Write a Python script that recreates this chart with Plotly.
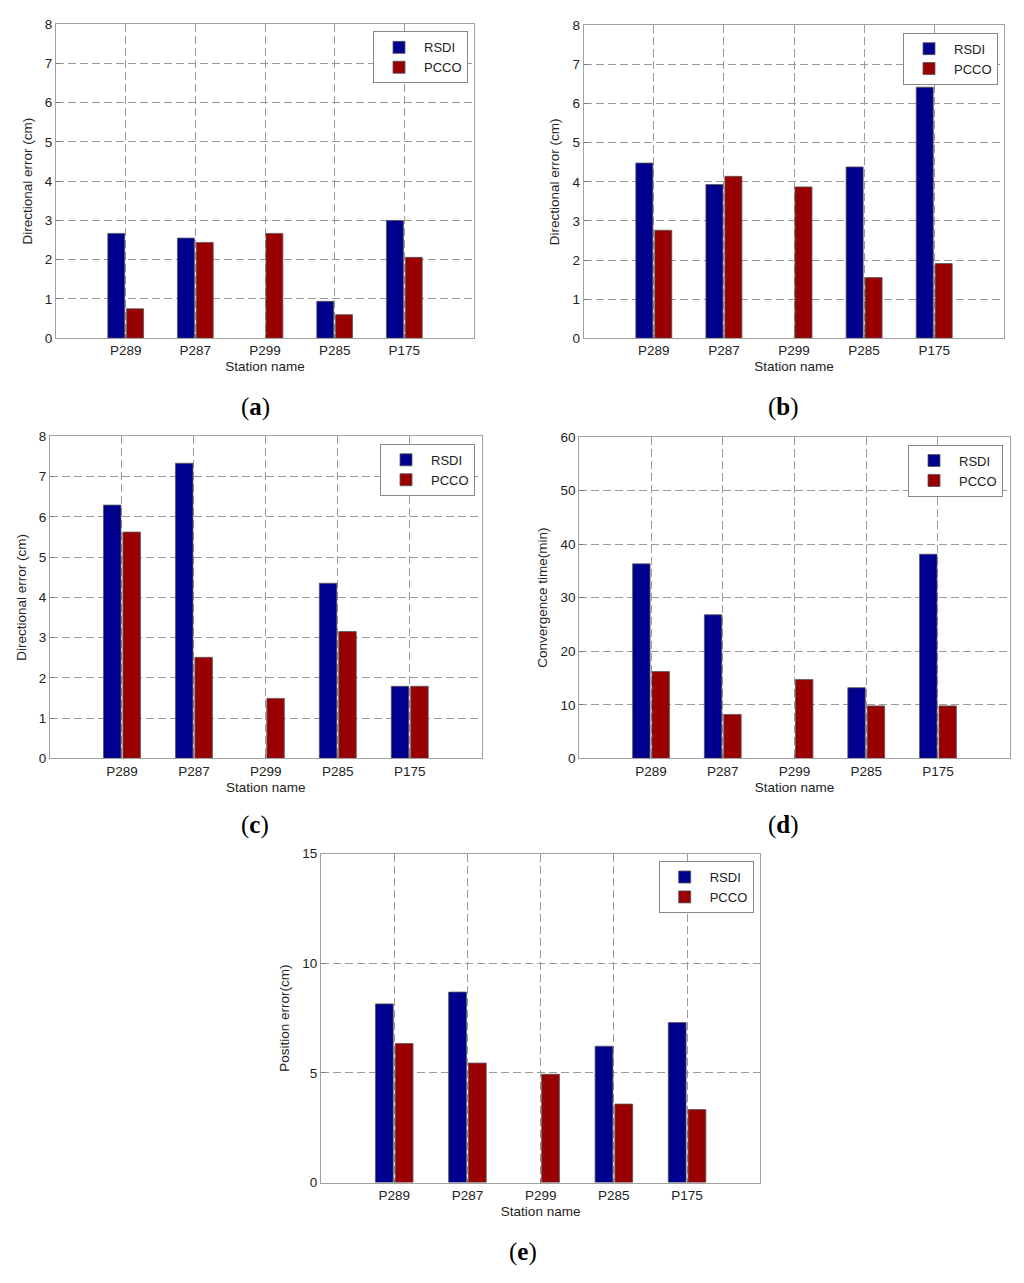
import plotly.graph_objects as go

stations = ["P289", "P287", "P299", "P285", "P175"]

# (a) directional error (RSDI has no value at P299)
a_rsdi = [2.67, 2.55, None, 0.94, 3.00]
a_pcco = [0.75, 2.44, 2.67, 0.60, 2.06]
# (b) directional error
b_rsdi = [4.48, 3.93, None, 4.38, 6.42]
b_pcco = [2.76, 4.14, 3.87, 1.55, 1.91]
# (c) directional error
c_rsdi = [6.29, 7.33, None, 4.35, 1.79]
c_pcco = [5.62, 2.51, 1.49, 3.15, 1.79]
# (d) convergence time
d_rsdi = [36.3, 26.8, None, 13.2, 38.1]
d_pcco = [16.2, 8.2, 14.7, 9.8, 9.8]
# (e) position error
e_rsdi = [8.15, 8.69, None, 6.22, 7.30]
e_pcco = [6.34, 5.45, 4.94, 3.58, 3.33]

panels = [
    ("a", a_rsdi, a_pcco, "Directional error (cm)", [0, 8], 1),
    ("b", b_rsdi, b_pcco, "Directional error (cm)", [0, 8], 1),
    ("c", c_rsdi, c_pcco, "Directional error (cm)", [0, 8], 1),
    ("d", d_rsdi, d_pcco, "Convergence time(min)", [0, 60], 10),
    ("e", e_rsdi, e_pcco, "Position error(cm)", [0, 15], 5),
]

W, H = 1024, 1283
# effective vertical drawing region observed in the rendered page
TOP_OFF, EFF_H = 7.6, 1267.5


def py2paper(y):
    return 1 - (y - TOP_OFF) / EFF_H


# pixel boxes: left, right, top, bottom
boxes = [
    (56, 474, 24.7, 338.7),
    (583.7, 1004.3, 26, 338.7),
    (50, 481.7, 436.7, 758.7),
    (579.3, 1009.7, 437.3, 758.7),
    (321, 760.3, 854, 1182.7),
]
legend_pos = [(468, 32), (998, 33.3), (475, 444.3), (1003, 445), (753.7, 861.3)]
label_pos = [(255, 407), (783, 407), (255, 825), (783, 825), (523, 1252)]

BLUE = "#00008E"
RED = "#990000"
FONT = "Liberation Sans"
GRID = "#9a9a9a"
DASH = "8px,4px"

fig = go.Figure()
layout = dict(
    width=W, height=H, margin=dict(l=0, r=0, t=0, b=0),
    paper_bgcolor="white", plot_bgcolor="white",
    barmode="group", bargap=0.46, bargroupgap=0.1,
    font=dict(family=FONT, size=13.5, color="#222"),
    annotations=[],
)

for i, (lab, rs, pc, ytitle, yr, dt) in enumerate(panels):
    n = i + 1
    xa = "x" if n == 1 else f"x{n}"
    ya = "y" if n == 1 else f"y{n}"
    lg = "legend" if n == 1 else f"legend{n}"
    fig.add_trace(go.Bar(x=stations, y=rs, name="RSDI",
                         marker=dict(color=BLUE, line=dict(color="#555", width=0.8)),
                         xaxis=xa, yaxis=ya, legend=lg))
    fig.add_trace(go.Bar(x=stations, y=pc, name="PCCO",
                         marker=dict(color=RED, line=dict(color="#555", width=0.8)),
                         xaxis=xa, yaxis=ya, legend=lg))
    l, r, t, b = boxes[i]
    xk = "xaxis" if n == 1 else f"xaxis{n}"
    yk = "yaxis" if n == 1 else f"yaxis{n}"
    layout[xk] = dict(
        domain=[l / W, r / W], anchor=ya, type="category", range=[-1, 5],
        showgrid=True, gridcolor=GRID, griddash=DASH, gridwidth=1,
        showline=True, linecolor="#a0a0a0", mirror=True,
        ticks="inside", ticklen=4, tickcolor="#777",
        tickfont=dict(size=13.5, color="#222"),
        title=dict(text="Station name", font=dict(size=13.5, color="#222"), standoff=4),
        fixedrange=True,
    )
    layout[yk] = dict(
        domain=[py2paper(b), py2paper(t)], anchor=xa, range=yr, dtick=dt,
        showgrid=True, gridcolor=GRID, griddash=DASH, gridwidth=1,
        zeroline=False,
        showline=True, linecolor="#a0a0a0", mirror=True,
        ticks="inside", ticklen=4, tickcolor="#777",
        tickfont=dict(size=13.5, color="#222"),
        title=dict(text=ytitle, font=dict(size=13.5, color="#222"), standoff=9),
        fixedrange=True,
    )
    lx, ly = legend_pos[i]
    layout[lg] = dict(
        x=lx / W, y=py2paper(ly), xanchor="right", yanchor="top",
        bgcolor="white", bordercolor="#888", borderwidth=1,
        font=dict(family=FONT, size=13, color="#222"),
        tracegroupgap=0, itemwidth=40,
    )
    px, py = label_pos[i]
    layout["annotations"].append(dict(
        text=f"(<b>{lab}</b>)", x=px / W, y=py2paper(py), xref="paper", yref="paper",
        showarrow=False, xanchor="center", yanchor="middle",
        font=dict(family="Liberation Serif", size=25, color="#000"),
    ))

fig.update_layout(**layout)
reset_css = (
    "var s=document.createElement('style');"
    "s.textContent='html,body{margin:0!important;padding:0!important;overflow:hidden;}';"
    "document.head.appendChild(s);"
    "window.scrollTo(0,0);"
)
fig.write_html("out.html", config={"displayModeBar": False}, post_script=reset_css)
